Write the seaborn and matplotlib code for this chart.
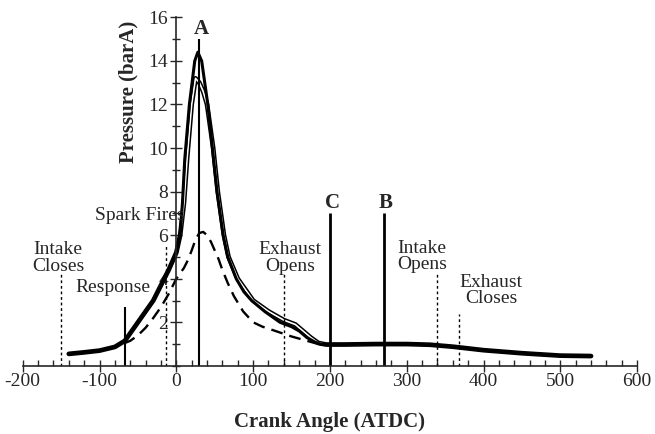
import numpy as np
import pandas as pd
import seaborn as sns
import matplotlib
matplotlib.use("Agg")
import matplotlib.pyplot as plt
from matplotlib.ticker import MultipleLocator

# ---------------- data ----------------
solid_x = [-140, -120, -100, -80, -67, -60, -50, -40, -30, -20, -10, 0, 5, 8, 11, 17, 24, 28,
           33, 37, 41, 44, 47, 50, 53, 57, 61, 67, 78, 88, 98, 115, 135, 150, 160, 170, 180, 189,
           220, 260, 300, 330, 360, 400, 450, 500, 540]
solid_y = [0.55, 0.62, 0.7, 0.87, 1.15, 1.5, 2.0, 2.5, 3.0, 3.7, 4.4, 5.2, 6.0, 7.5, 9.5, 12.0, 14.0, 14.4,
           14.0, 13.0, 12.0, 11.0, 10.0, 9.0, 8.0, 7.0, 6.0, 5.0, 4.0, 3.4, 3.0, 2.5, 2.0, 1.8, 1.6, 1.3, 1.1, 0.98,
           0.98, 1.0, 1.0, 0.97, 0.88, 0.72, 0.58, 0.47, 0.45]

hollow_x = [-140, -120, -100, -80, -67, -60, -50, -40, -30, -20, -10, 0, 5, 10, 14, 20, 25,
            30, 35, 40, 44, 48, 51, 54, 58, 62, 68, 80, 100, 120, 140, 155, 165, 175, 185, 195,
            220, 260, 300, 330, 360, 400, 450, 500, 540]
hollow_y = [0.55, 0.62, 0.7, 0.87, 1.15, 1.5, 2.0, 2.5, 3.0, 3.7, 4.4, 5.2, 6.0, 7.5, 9.5, 12.0, 13.2,
            13.0, 12.6, 12.0, 11.0, 10.0, 9.0, 8.0, 7.0, 6.0, 5.0, 4.0, 3.0, 2.5, 2.1, 1.9, 1.6, 1.3, 1.05, 0.98,
            0.98, 1.0, 1.0, 0.97, 0.88, 0.72, 0.58, 0.47, 0.45]

dashed_x = [-140, -100, -80, -67, -60, -50, -40, -30, -20, -10, 0, 10, 15, 20, 25, 30, 35,
            40, 45, 50, 55, 60, 67, 75, 87, 100, 112, 125, 150, 165, 175, 185]
dashed_y = [0.55, 0.7, 0.85, 1.05, 1.15, 1.4, 1.75, 2.2, 2.7, 3.3, 4.0, 4.5, 4.85, 5.3, 5.8, 6.1, 6.15,
            6.0, 5.7, 5.3, 4.9, 4.4, 3.8, 3.2, 2.5, 2.0, 1.8, 1.65, 1.35, 1.2, 1.1, 1.0]

# event markers
solid_marks_x = [30, 200, 270, -67]
solid_marks_top = [15.0, 7.0, 7.0, 2.7]
letter_labels = ["A", "C", "B"]
letter_x = [33, 204, 272]
letter_y = [15.45, 7.5, 7.5]

dotted_marks_x = [-150, -14, 140, 340, 368]
dotted_marks_top = [4.3, 5.6, 4.3, 4.2, 2.4]

event_labels = ["Intake\nCloses", "Response", "Spark Fires", "Exhaust\nOpens", "Intake\nOpens", "Exhaust\nCloses"]
event_x = [-154, -82, -48, 148, 320, 410]
event_y = [4.95, 3.6, 6.9, 4.95, 5.03, 3.45]

x_ticks = [-200, -100, 0, 100, 200, 300, 400, 500, 600]
y_ticks = [2, 4, 6, 8, 10, 12, 14, 16]

# ---------------- plot ----------------
sns.set_style("ticks")
plt.rcParams['font.family'] = ['Liberation Serif', 'DejaVu Serif']
plt.rcParams['axes.unicode_minus'] = False

fig = plt.figure(figsize=(6.55, 4.34), dpi=100)
ax = fig.add_axes([0.0347, 0.157, 0.938, 0.803])

df_s = pd.DataFrame({"x": solid_x, "y": solid_y})
df_h = pd.DataFrame({"x": hollow_x, "y": hollow_y})
df_d = pd.DataFrame({"x": dashed_x, "y": dashed_y})

sns.lineplot(data=df_h, x="x", y="y", ax=ax, color="black", lw=3.4, sort=False, estimator=None)
sns.lineplot(data=df_h, x="x", y="y", ax=ax, color="white", lw=1.2, sort=False, estimator=None)
sns.lineplot(data=df_s, x="x", y="y", ax=ax, color="black", lw=2.2, sort=False, estimator=None)
sns.lineplot(data=df_d, x="x", y="y", ax=ax, color="black", lw=1.7, sort=False, estimator=None,
             dashes=False, linestyle=(0, (5, 3)))

ax.vlines(solid_marks_x[:3], 0, solid_marks_top[:3], colors="black", lw=[1.5, 2.0, 2.0])
ax.vlines(solid_marks_x[3:], 0, solid_marks_top[3:], colors="black", lw=1.5)
ax.vlines(dotted_marks_x, 0, dotted_marks_top, colors="black", lw=1.0, linestyles=(0, (2, 2)))

for t, x, y in zip(letter_labels, letter_x, letter_y):
    ax.text(x, y, t, ha="center", va="center", fontsize=15, fontweight="bold")
for t, x, y in zip(event_labels, event_x, event_y):
    ax.text(x, y, t, ha="center", va="center", fontsize=14, linespacing=0.95)

ax.set_xlim(-200, 600)
ax.set_ylim(0, 16)
ax.spines["left"].set_position(("data", 0))
ax.spines["bottom"].set_position(("data", 0))
ax.spines["top"].set_visible(False)
ax.spines["right"].set_visible(False)
ax.spines["left"].set_linewidth(1.2)
ax.spines["bottom"].set_linewidth(1.2)

ax.set_xticks(x_ticks)
ax.set_yticks(y_ticks)
ax.xaxis.set_minor_locator(MultipleLocator(20))
ax.yaxis.set_minor_locator(MultipleLocator(1))
ax.tick_params(axis="x", which="major", direction="inout", length=8, width=1, labelsize=14, pad=1)
ax.tick_params(axis="x", which="minor", direction="in", length=4, width=1)
ax.tick_params(axis="y", which="major", direction="inout", length=8, width=1, labelsize=14, pad=2)
ax.tick_params(axis="y", which="minor", direction="inout", length=6, width=1)

ax.set_xlabel("Crank Angle (ATDC)", fontsize=15, fontweight="bold")
ax.set_ylabel("Pressure (barA)", fontsize=15, fontweight="bold")
ax.xaxis.set_label_coords(0.5, -0.133)
ax.yaxis.set_label_coords(0.189, 0.786)
ax.grid(False)

fig.savefig("out.png", dpi=100)
